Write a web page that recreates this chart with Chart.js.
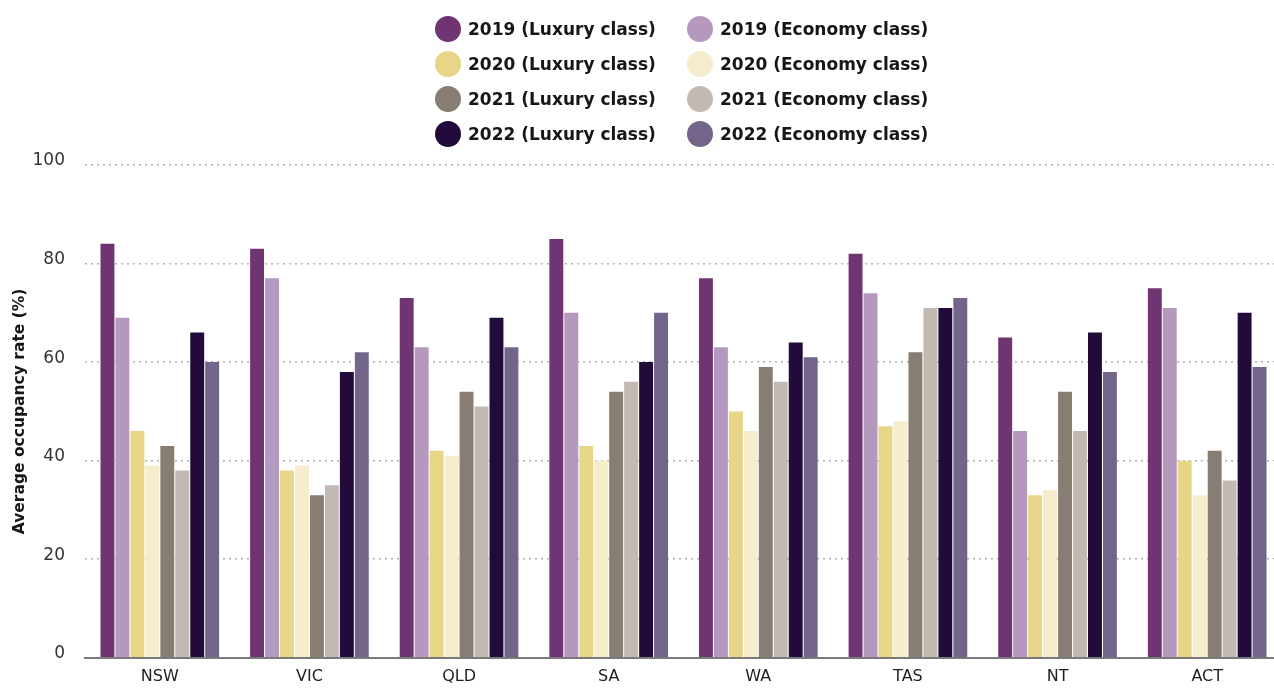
<!DOCTYPE html>
<html>
<head>
<meta charset="utf-8">
<script src="https://cdn.jsdelivr.net/npm/chart.js@4"></script>
<style>
  html, body { margin: 0; padding: 0; background: #fff; overflow: hidden; width: 1274px; height: 688px; }
  #wrap { position: relative; width: 1290px; height: 688px; }
  #legend {
    position: absolute; left: 435px; top: 11px;
    display: grid; grid-template-columns: 252px auto; grid-auto-rows: 35px;
    font-family: "DejaVu Sans", sans-serif; font-weight: 700; font-size: 17px; color: #161616;
  }
  .item { display: flex; align-items: center; white-space: nowrap; }
  .dot { width: 26px; height: 26px; border-radius: 50%; margin-right: 7px; flex: none; }
</style>
</head>
<body>
<div id="wrap">
  <canvas id="occupancyChart" width="1290" height="688"></canvas>
  <div id="legend"></div>
</div>
<script>
const states = ['NSW', 'VIC', 'QLD', 'SA', 'WA', 'TAS', 'NT', 'ACT'];
const yTicks = [0, 20, 40, 60, 80, 100];

const lux2019 = [84, 83, 73, 85, 77, 82, 65, 75];
const eco2019 = [69, 77, 63, 70, 63, 74, 46, 71];
const lux2020 = [46, 38, 42, 43, 50, 47, 33, 40];
const eco2020 = [39, 39, 41, 40, 46, 48, 34, 33];
const lux2021 = [43, 33, 54, 54, 59, 62, 54, 42];
const eco2021 = [38, 35, 51, 56, 56, 71, 46, 36];
const lux2022 = [66, 58, 69, 60, 64, 71, 66, 70];
const eco2022 = [60, 62, 63, 70, 61, 73, 58, 59];

const seriesNames = [
    '2019 (Luxury class)', '2019 (Economy class)',
    '2020 (Luxury class)', '2020 (Economy class)',
    '2021 (Luxury class)', '2021 (Economy class)',
    '2022 (Luxury class)', '2022 (Economy class)'
];
const seriesValues = [lux2019, eco2019, lux2020, eco2020, lux2021, eco2021, lux2022, eco2022];
const seriesColors = ['#6f3572', '#b598be', '#e8d688', '#f6edcc', '#877d73', '#c2b9b3', '#220b3b', '#736589'];

// legend in two columns, built from the chart's own datasets
const htmlLegend = {
    id: 'htmlLegend',
    afterUpdate(chart) {
        const box = document.getElementById('legend');
        box.innerHTML = '';
        chart.data.datasets.forEach(ds => {
            const item = document.createElement('div');
            item.className = 'item';
            const dot = document.createElement('span');
            dot.className = 'dot';
            dot.style.background = ds.backgroundColor;
            const txt = document.createElement('span');
            txt.textContent = ds.label;
            item.appendChild(dot);
            item.appendChild(txt);
            box.appendChild(item);
        });
    }
};

const ctx = document.getElementById('occupancyChart').getContext('2d');
const occupancyChart = new Chart(ctx, {
    type: 'bar',
    data: {
        labels: states,
        datasets: seriesNames.map((name, i) => ({
            label: name,
            data: seriesValues[i],
            backgroundColor: seriesColors[i],
            barPercentage: 0.93,
            categoryPercentage: 0.8
        }))
    },
    options: {
        responsive: false,
        animation: false,
        layout: { padding: { top: 165, right: 8, left: 0, bottom: 0 } },
        plugins: {
            legend: { display: false },
            tooltip: { enabled: false }
        },
        scales: {
            x: {
                grid: { display: false },
                border: { display: true, color: '#7a7a7a', width: 2 },
                ticks: {
                    color: '#1e1e1e',
                    padding: 1,
                    font: { family: 'DejaVu Sans', size: 16 }
                },
                afterFit: s => { s.height = 25; }
            },
            y: {
                min: 0,
                max: 100,
                afterBuildTicks: s => { s.ticks = yTicks.map(v => ({ value: v })); },
                border: { display: false, dash: [2, 4] },
                grid: {
                    color: '#b0b0b0',
                    lineWidth: 1.5,
                    drawTicks: false
                },
                ticks: {
                    color: '#333',
                    padding: 20,
                    labelOffset: -4,
                    font: { family: 'DejaVu Sans', size: 17 }
                },
                title: {
                    display: true,
                    text: 'Average occupancy rate (%)',
                    color: '#161616',
                    padding: { top: 11, bottom: 0 },
                    font: { family: 'DejaVu Sans', size: 15.5, weight: 'bold' }
                },
                afterFit: s => { s.width = 85; }
            }
        }
    },
    plugins: [htmlLegend]
});
</script>
</body>
</html>
